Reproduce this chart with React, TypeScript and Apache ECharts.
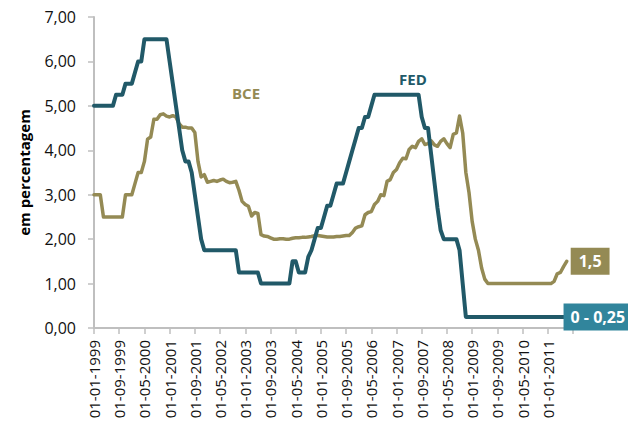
import React, { useEffect, useRef } from "react";
import * as echarts from "echarts";

// Monthly observations, first month = January 1999
const START_YEAR = 1999;
const MONTH_COUNT = 153; // Jan 1999 .. Sep 2011 (axis end)

const BCE: number[] = [
  // 1999
  3.0, 3.0, 3.0, 2.5, 2.5, 2.5, 2.5, 2.5, 2.5, 2.5, 3.0, 3.0,
  // 2000
  3.0, 3.25, 3.5, 3.5, 3.75, 4.25, 4.3, 4.7, 4.7, 4.8, 4.82, 4.77,
  // 2001
  4.75, 4.78, 4.75, 4.6, 4.52, 4.52, 4.5, 4.5, 4.4, 3.75, 3.4, 3.45,
  // 2002
  3.28, 3.3, 3.32, 3.3, 3.33, 3.35, 3.3, 3.27, 3.28, 3.3, 3.1, 2.85,
  // 2003
  2.78, 2.74, 2.52, 2.6, 2.58, 2.1, 2.07, 2.06, 2.03, 2.0, 2.0, 2.01,
  // 2004
  2.01, 2.0, 2.0, 2.02, 2.03, 2.03, 2.04, 2.04, 2.05, 2.06, 2.08, 2.08,
  // 2005
  2.07, 2.06, 2.05, 2.05, 2.05, 2.06, 2.06, 2.07, 2.08, 2.08, 2.15, 2.25,
  // 2006
  2.28, 2.3, 2.55, 2.6, 2.62, 2.78, 2.85, 3.0, 2.98, 3.3, 3.34, 3.5,
  // 2007
  3.57, 3.72, 3.82, 3.81, 4.02, 4.09, 4.06, 4.2, 4.26, 4.13, 4.15, 4.21,
  // 2008
  4.12, 4.09, 4.2, 4.26, 4.15, 4.06, 4.36, 4.39, 4.77, 4.39, 3.5, 3.05,
  // 2009
  2.4, 2.0, 1.75, 1.35, 1.1, 1.0, 1.0, 1.0, 1.0, 1.0, 1.0, 1.0,
  // 2010
  1.0, 1.0, 1.0, 1.0, 1.0, 1.0, 1.0, 1.0, 1.0, 1.0, 1.0, 1.0,
  // 2011
  1.0, 1.0, 1.05, 1.22, 1.25, 1.38, 1.5,
];

const FED: number[] = [
  // 1999
  5.0, 5.0, 5.0, 5.0, 5.0, 5.0, 5.0, 5.25, 5.25, 5.25, 5.5, 5.5,
  // 2000
  5.5, 5.75, 6.0, 6.0, 6.5, 6.5, 6.5, 6.5, 6.5, 6.5, 6.5, 6.5,
  // 2001
  6.0, 5.5, 5.0, 4.5, 4.0, 3.75, 3.75, 3.5, 3.0, 2.5, 2.0, 1.75,
  // 2002
  1.75, 1.75, 1.75, 1.75, 1.75, 1.75, 1.75, 1.75, 1.75, 1.75, 1.25, 1.25,
  // 2003
  1.25, 1.25, 1.25, 1.25, 1.25, 1.0, 1.0, 1.0, 1.0, 1.0, 1.0, 1.0,
  // 2004
  1.0, 1.0, 1.0, 1.5, 1.5, 1.25, 1.25, 1.25, 1.6, 1.75, 2.0, 2.25,
  // 2005
  2.25, 2.5, 2.75, 2.75, 3.0, 3.25, 3.25, 3.25, 3.5, 3.75, 4.0, 4.25,
  // 2006
  4.5, 4.5, 4.75, 4.75, 5.0, 5.25, 5.25, 5.25, 5.25, 5.25, 5.25, 5.25,
  // 2007
  5.25, 5.25, 5.25, 5.25, 5.25, 5.25, 5.25, 5.25, 4.75, 4.5, 4.5, 3.9,
  // 2008
  3.3, 2.7, 2.2, 2.0, 2.0, 2.0, 2.0, 2.0, 1.75, 1.0, 0.25, 0.25,
  // 2009
  0.25, 0.25, 0.25, 0.25, 0.25, 0.25, 0.25, 0.25, 0.25, 0.25, 0.25, 0.25,
  // 2010
  0.25, 0.25, 0.25, 0.25, 0.25, 0.25, 0.25, 0.25, 0.25, 0.25, 0.25, 0.25,
  // 2011
  0.25, 0.25, 0.25, 0.25, 0.25, 0.25,
];

const Y_TICKS = [0, 1, 2, 3, 4, 5, 6, 7];
const BCE_END_LABEL = "1,5";
const FED_END_LABEL = "0 - 0,25";

const pad = (n: number) => (n < 10 ? "0" + n : String(n));
const CATEGORIES: string[] = Array.from({ length: MONTH_COUNT }, (_, i) => {
  const y = START_YEAR + Math.floor(i / 12);
  const m = (i % 12) + 1;
  return `01-${pad(m)}-${y}`;
});

const FONT = "'Open Sans', 'Noto Sans', sans-serif";
const C_FED = "#215968";
const C_FED_BOX = "#31859C";
const C_BCE = "#948A54";
const C_AXIS = "#BFBFBF";

export default function App() {
  const ref = useRef<HTMLDivElement>(null);

  useEffect(() => {
    if (!ref.current) return;
    const chart = echarts.init(ref.current, undefined, { renderer: "svg" });
    chart.setOption({
      animation: false,
      backgroundColor: "#ffffff",
      textStyle: { fontFamily: FONT },
      grid: { left: 94, right: 55, top: 17, bottom: 103, containLabel: false },
      xAxis: {
        type: "category",
        data: CATEGORIES,
        boundaryGap: false,
        axisLine: { show: true, lineStyle: { color: C_AXIS, width: 2 } },
        axisTick: {
          show: true,
          length: 6,
          interval: (i: number) => i % 8 === 0,
          lineStyle: { color: C_AXIS, width: 1.5 },
        },
        axisLabel: {
          interval: (i: number) => i % 8 === 0 && i < MONTH_COUNT - 1,
          rotate: 90,
          margin: 12,
          fontSize: 15,
          color: "#111",
          fontFamily: FONT,
        },
        splitLine: { show: false },
      },
      yAxis: {
        type: "value",
        min: Y_TICKS[0],
        max: Y_TICKS[Y_TICKS.length - 1],
        interval: 1,
        name: "em percentagem",
        nameLocation: "middle",
        nameRotate: 90,
        nameGap: 63,
        nameTextStyle: {
          fontSize: 15,
          fontWeight: "bold",
          color: "#000",
          fontFamily: FONT,
        },
        axisLine: { show: true, lineStyle: { color: C_AXIS, width: 2 } },
        axisTick: { show: true, length: 6, lineStyle: { color: C_AXIS, width: 1.5 } },
        axisLabel: {
          margin: 18,
          fontSize: 16,
          color: "#111",
          fontFamily: FONT,
          formatter: (v: number) => v.toFixed(2).replace(".", ","),
        },
        splitLine: { show: false },
      },
      series: [
        {
          name: "BCE",
          type: "line",
          data: BCE,
          symbol: "none",
          smooth: false,
          lineStyle: { color: C_BCE, width: 3.5, join: "round", cap: "round" },
          itemStyle: { color: C_BCE },
          endLabel: {
            show: true,
            formatter: () => BCE_END_LABEL,
            distance: 4,
            backgroundColor: C_BCE,
            color: "#fff",
            fontWeight: "bold",
            fontSize: 16,
            fontFamily: FONT,
            padding: [6, 8, 5, 8],
          },
        },
        {
          name: "FED",
          type: "line",
          data: FED,
          symbol: "none",
          smooth: false,
          lineStyle: { color: C_FED, width: 4, join: "round", cap: "round" },
          itemStyle: { color: C_FED },
          endLabel: {
            show: true,
            formatter: () => FED_END_LABEL,
            distance: 0,
            backgroundColor: C_FED_BOX,
            color: "#fff",
            fontWeight: "bold",
            fontSize: 16,
            fontFamily: FONT,
            padding: [6, 6, 5, 7],
          },
        },
      ],
      graphic: [
        {
          type: "text",
          left: 232,
          top: 85,
          style: {
            text: "BCE",
            fill: C_BCE,
            font: `bold 15px ${FONT}`,
          },
        },
        {
          type: "text",
          left: 399,
          top: 71,
          style: {
            text: "FED",
            fill: C_FED,
            font: `bold 15px ${FONT}`,
          },
        },
      ],
    });
    return () => chart.dispose();
  }, []);

  return (
    <div
      ref={ref}
      style={{ position: "fixed", left: 0, top: 0, width: 628, height: 431, background: "#fff" }}
    />
  );
}
